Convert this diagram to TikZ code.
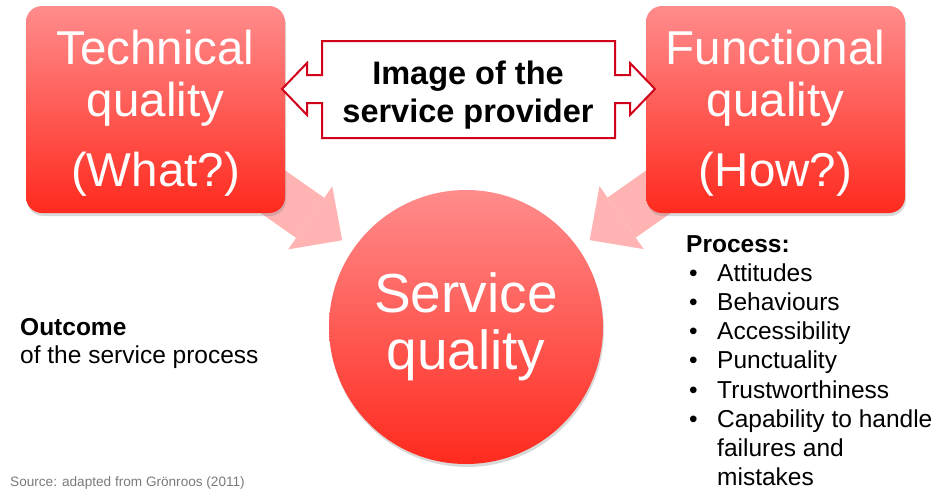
\documentclass[tikz,border=0pt]{standalone}
\usepackage{fontspec}
\setmainfont{Liberation Sans}
\usetikzlibrary{arrows.meta,positioning,shadows,calc}
\definecolor{boxtop}{HTML}{FF8C8C}
\definecolor{boxbot}{HTML}{FF2A1E}
\definecolor{calloutred}{HTML}{D0021B}
\definecolor{palepink}{HTML}{FFB3B3}
\definecolor{srcgray}{HTML}{7A7A7A}
\newcommand{\topstrut}{\rule{0pt}{42.7pt}}

\begin{document}
\begin{tikzpicture}[
  x=1pt,y=-1pt,
  qualbox/.style={
    rectangle,rounded corners=16pt,inner sep=0pt,
    minimum width=259pt,minimum height=207pt,
    top color=boxtop,bottom color=boxbot,
    text=white,align=center,
    font=\fontsize{47.5}{52}\selectfont,
    drop shadow={shadow xshift=1pt,shadow yshift=-3pt,opacity=.3}
  },
  svcnode/.style={
    circle,inner sep=0pt,minimum size=274pt,
    top color=boxtop,bottom color=boxbot,
    text=white,align=center,
    font=\fontsize{55}{57}\selectfont,
    drop shadow={shadow xshift=1pt,shadow yshift=-3pt,opacity=.3}
  },
  palearrow/.style={
    draw=palepink,line width=49pt,shorten >=14pt,
    -{Triangle[width=77pt,length=39pt,line width=0pt]}
  },
  callout/.style={
    draw=calloutred,line width=2pt,fill=white,line join=miter
  },
  plaintext/.style={inner sep=0pt,anchor=base west}
]
\useasboundingbox (0,0) rectangle (945,498);

% ---- the two quality boxes and the centre circle ----
\node[svcnode] (svc) at (466,327) {Service\\quality};
\coordinate (techc) at (155.5,109.5);
\coordinate (funcc) at (775.5,109.5);

% ---- pale arrows, from each box into the circle ----
\draw[palearrow] (techc) -- (svc);
\draw[palearrow] (funcc) -- (svc);

\node[qualbox] (tech) at (techc) {\topstrut Technical\\quality\\[18pt](What?)};
\node[qualbox] (func) at (funcc) {\topstrut Functional\\quality\\[18pt](How?)};

% ---- image callout with a head on each side ----
\draw[callout]
  (322,41) -- (615,41) -- (615,75) -- (630,75) -- (630,63) -- (655,89)
  -- (630,115) -- (630,103) -- (615,103) -- (615,138) -- (322,138)
  -- (322,103) -- (307,103) -- (307,115) -- (282,89) -- (307,63)
  -- (307,75) -- (322,75) -- cycle;
\node[align=center,font=\bfseries\fontsize{32.5}{38}\selectfont] (img) at (468,95)
  {Image of the\\service provider};

% ---- side texts ----
\node[plaintext,font=\fontsize{24.5}{29.2}\selectfont] (proc) at (686,252) {%
  \begin{tabular}[t]{@{}p{31pt}@{}l@{}}
    \multicolumn{2}{@{}l@{}}{\textbf{Process:}}\\
    \hspace*{3pt}\textbullet & Attitudes\\
    \hspace*{3pt}\textbullet & Behaviours\\
    \hspace*{3pt}\textbullet & Accessibility\\
    \hspace*{3pt}\textbullet & Punctuality\\
    \hspace*{3pt}\textbullet & Trustworthiness\\
    \hspace*{3pt}\textbullet & Capability to handle\\
                             & failures and\\
                             & mistakes
  \end{tabular}};

\node[plaintext,font=\fontsize{24.5}{28}\selectfont] (outc) at (20,335) {%
  \begin{tabular}[t]{@{}l@{}}
    \textbf{Outcome}\\
    of the service process
  \end{tabular}};

\node[plaintext,font=\fontsize{13.6}{15}\selectfont,text=srcgray] (src) at (10,486)
  {Source: adapted from Grönroos (2011)};
\end{tikzpicture}
\end{document}
